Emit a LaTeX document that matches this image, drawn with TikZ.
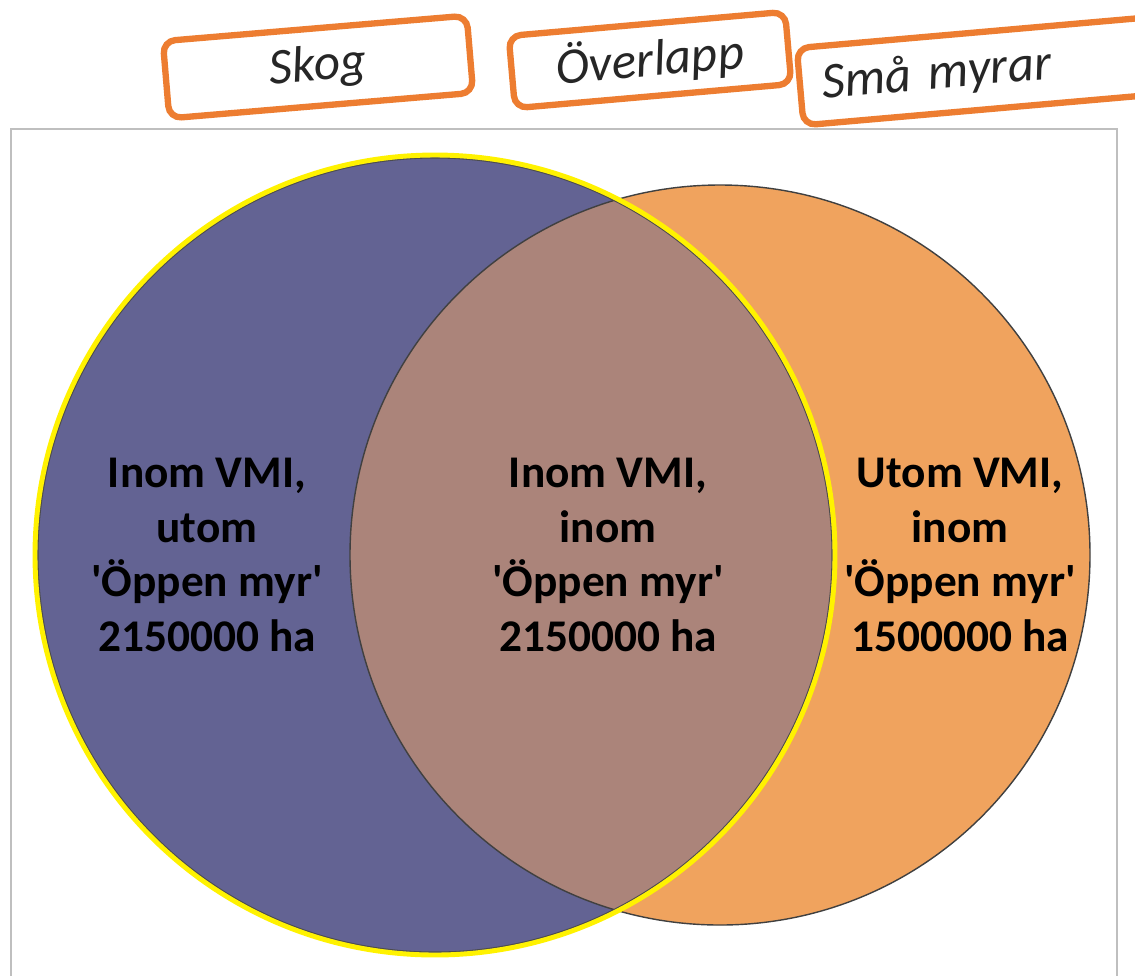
\documentclass[tikz,border=0pt]{standalone}
\usepackage{fontspec}
\setmainfont{Carlito}
\usepackage{xcolor}
\usepackage{tikz}
\usetikzlibrary{shapes,positioning}

\definecolor{skogblue}{RGB}{99,99,147}
\definecolor{myrorange}{RGB}{240,163,94}
\definecolor{overlapbrown}{RGB}{171,132,122}
\definecolor{boxorange}{RGB}{237,125,49}
\definecolor{framegray}{RGB}{191,191,191}
\definecolor{textgray}{RGB}{38,38,38}

\begin{document}
\begin{tikzpicture}[x=0.02cm, y=-0.02cm]
  \tikzstyle{setbox} = [rectangle, draw=boxorange, line width=3.6pt, fill=white, rounded corners=7pt, text=textgray, font=\fontsize{29}{34}\selectfont\itshape]
  \tikzstyle{settext} = [align=center, text=black, font=\fontsize{25.8}{31.2}\selectfont\bfseries]

  \clip (0,0) rectangle (1135,975);
  \fill[white] (0,0) rectangle (1135,975);

  % frame
  \draw[framegray, line width=1.2pt] (11,1000) -- (11,129) -- (1117,129) -- (1117,1000);

  % circles
  \coordinate (skog) at (435,555);
  \coordinate (myr) at (720,555);
  \fill[skogblue] (skog) circle (400);
  \fill[myrorange] (myr) circle (370);
  \begin{scope}
    \clip (skog) circle (400);
    \fill[overlapbrown] (myr) circle (370);
  \end{scope}
  \draw[black!75, line width=0.8pt] (myr) circle (370);
  \draw[black!70, line width=0.6pt] (skog) circle (397);
  \draw[yellow, line width=2.8pt] (skog) circle (400);

  % texts
  \node [settext] (skogtext) at (207,555) {Inom VMI,\\utom\\\textquotesingle Öppen myr\textquotesingle\\2150000 ha};
  \node [settext] (overlaptext) at (608,555) {Inom VMI,\\inom\\\textquotesingle Öppen myr\textquotesingle\\2150000 ha};
  \node [settext] (myrtext) at (960,555) {Utom VMI,\\inom\\\textquotesingle Öppen myr\textquotesingle\\1500000 ha};

  % labels
  \node [setbox, rotate=4.8, minimum width=6.1cm, minimum height=1.55cm] (skogbox) at (318,67) {Skog};
  \node [setbox, rotate=5, minimum width=5.55cm, minimum height=1.45cm] (overlapbox) at (650,60) {Överlapp};
  \node [setbox, rotate=5, anchor=west, text width=6.6cm, align=left, inner xsep=0.45cm, minimum height=1.55cm] (smabox) at (797,87) {Små myrar};
\end{tikzpicture}
\end{document}
